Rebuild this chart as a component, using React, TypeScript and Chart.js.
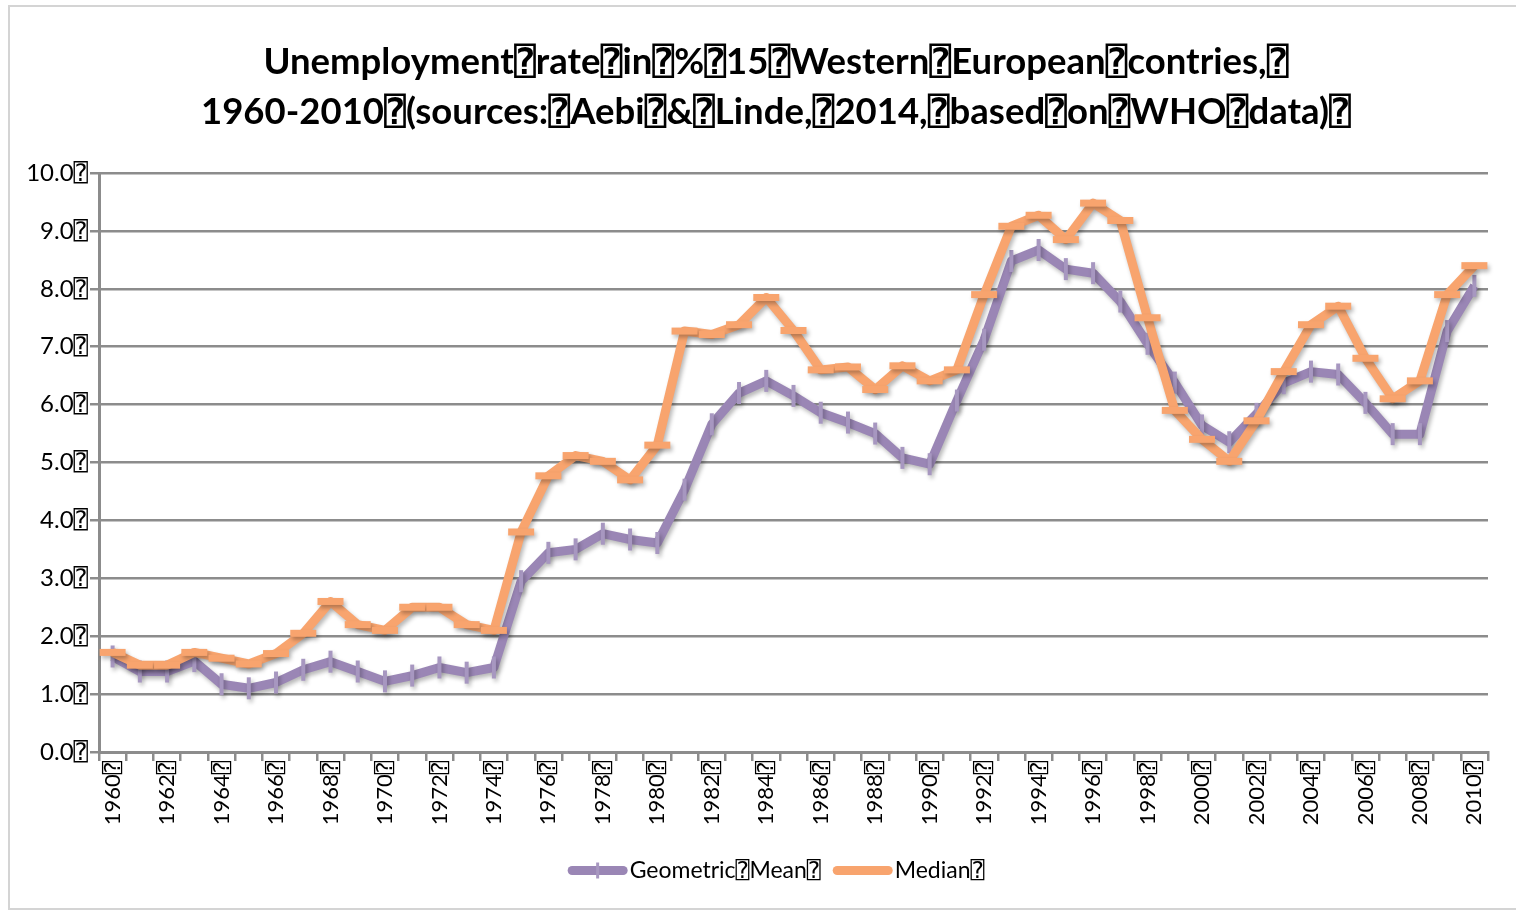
import React, { useEffect, useRef } from "react";
import { Chart, registerables } from "chart.js";

Chart.register(...registerables);

const years = [
  "1960", "1961", "1962", "1963", "1964", "1965", "1966", "1967", "1968", "1969",
  "1970", "1971", "1972", "1973", "1974", "1975", "1976", "1977", "1978", "1979",
  "1980", "1981", "1982", "1983", "1984", "1985", "1986", "1987", "1988", "1989",
  "1990", "1991", "1992", "1993", "1994", "1995", "1996", "1997", "1998", "1999",
  "2000", "2001", "2002", "2003", "2004", "2005", "2006", "2007", "2008", "2009",
  "2010",
];

const geometricMean = [
  1.65, 1.39, 1.39, 1.57, 1.17, 1.1, 1.2, 1.42, 1.56, 1.39,
  1.22, 1.32, 1.46, 1.37, 1.46, 2.95, 3.44, 3.5, 3.77, 3.67,
  3.61, 4.53, 5.66, 6.2, 6.41, 6.15, 5.86, 5.69, 5.5, 5.08,
  4.97, 6.07, 7.12, 8.48, 8.67, 8.34, 8.27, 7.78, 7.05, 6.38,
  5.64, 5.35, 5.84, 6.37, 6.57, 6.52, 6.03, 5.49, 5.49, 7.27,
  8.05,
];

const median = [
  1.72, 1.5, 1.5, 1.72, 1.62, 1.52, 1.7, 2.05, 2.6, 2.2,
  2.1, 2.5, 2.5, 2.2, 2.1, 3.8, 4.77, 5.12, 5.02, 4.7,
  5.3, 7.27, 7.21, 7.38, 7.85, 7.28, 6.6, 6.65, 6.26, 6.67,
  6.41, 6.6, 7.9, 9.08, 9.27, 8.85, 9.48, 9.18, 7.5, 5.9,
  5.4, 5.02, 5.72, 6.57, 7.38, 7.7, 6.8, 6.1, 6.41, 7.9,
  8.4,
];

const seriesLabels = ["Geometric\u2370Mean\u2370", "Median\u2370"];

const titleLines = [
  "Unemployment\u2370rate\u2370in\u2370%\u237015\u2370Western\u2370European\u2370contries,\u2370",
  "1960-2010\u2370(sources:\u2370Aebi\u2370&\u2370Linde,\u23702014,\u2370based\u2370on\u2370WHO\u2370data)\u2370",
];

const FONT = "Lato, 'DejaVu Sans', 'DejaVu Sans Mono', sans-serif";
const PURPLE = "#9A86B5";
const PURPLE_MARK = "#A797C0";
const ORANGE = "#F8A46E";
const GRID = "#8C8C8C";
const seriesColors = [PURPLE, ORANGE];

const LEGEND_LINE = 60;

const frame = {
  id: "frame",
  beforeDraw(chart: any) {
    const c = chart.ctx;
    c.save();
    c.fillStyle = "#ffffff";
    c.fillRect(0, 0, chart.width, chart.height);
    c.strokeStyle = "#D4D4D4";
    c.lineWidth = 2;
    c.strokeRect(9, 6, chart.width + 10, chart.height - 8);
    c.restore();
  },
};

const shadow = {
  id: "shadow",
  beforeDatasetDraw(chart: any) {
    const c = chart.ctx;
    c.save();
    c.shadowColor = "rgba(0,0,0,0.28)";
    c.shadowBlur = 4;
    c.shadowOffsetX = 2;
    c.shadowOffsetY = 3;
  },
  afterDatasetDraw(chart: any) {
    chart.ctx.restore();
  },
};

const legendLines = {
  id: "legendLines",
  afterDraw(chart: any) {
    const lg = chart.legend;
    if (!lg || !lg.legendHitBoxes) return;
    const c = chart.ctx;
    c.save();
    lg.legendHitBoxes.forEach((hb: any, i: number) => {
      const item = lg.legendItems[i];
      const color = seriesColors[item.datasetIndex];
      const cy = hb.top + hb.height / 2;
      c.strokeStyle = color;
      c.lineWidth = 9;
      c.lineCap = "round";
      c.beginPath();
      c.moveTo(hb.left + 4.5, cy);
      c.lineTo(hb.left + LEGEND_LINE - 4.5, cy);
      c.stroke();
      if (item.datasetIndex === 0) {
        c.strokeStyle = PURPLE_MARK;
        c.lineWidth = 3;
        c.lineCap = "butt";
        c.beginPath();
        c.moveTo(hb.left + LEGEND_LINE / 2, cy - 8);
        c.lineTo(hb.left + LEGEND_LINE / 2, cy + 8);
        c.stroke();
      }
    });
    c.restore();
  },
};

export default function App() {
  const ref = useRef<HTMLCanvasElement>(null);

  useEffect(() => {
    document.body.style.margin = "0";
    const chart = new Chart(ref.current as HTMLCanvasElement, {
      type: "line",
      data: {
        labels: years,
        datasets: [
          {
            label: seriesLabels[0],
            data: geometricMean,
            borderColor: PURPLE,
            backgroundColor: PURPLE,
            borderWidth: 9,
            borderJoinStyle: "round",
            pointStyle: "line",
            pointRotation: 90,
            pointRadius: 11,
            pointBorderWidth: 4,
            pointBorderColor: PURPLE_MARK,
            pointBackgroundColor: PURPLE,
            tension: 0,
            order: 1,
          },
          {
            label: seriesLabels[1],
            data: median,
            borderColor: ORANGE,
            backgroundColor: ORANGE,
            borderWidth: 9,
            borderJoinStyle: "round",
            pointStyle: "line",
            pointRadius: 13,
            pointBorderWidth: 7,
            pointBorderColor: ORANGE,
            pointBackgroundColor: ORANGE,
            tension: 0,
            order: 0,
          },
        ],
      },
      options: {
        responsive: false,
        animation: false,
        devicePixelRatio: 1,
        layout: { padding: { left: 64, right: 28, top: 29, bottom: 19 } },
        plugins: {
          title: {
            display: true,
            text: titleLines,
            color: "#000",
            font: { family: FONT, size: 36.5, weight: "bold", lineHeight: 1.37 },
            padding: { top: 8, bottom: 36 },
          },
          legend: {
            position: "bottom",
            labels: {
              color: "#000",
              font: { family: FONT, size: 23 },
              boxWidth: LEGEND_LINE - 11.5 + 2,
              boxHeight: 9,
              padding: 12,
              sort: (a: any, b: any) => a.datasetIndex - b.datasetIndex,
              generateLabels: (ch: any) =>
                (Chart.defaults.plugins.legend.labels as any)
                  .generateLabels(ch)
                  .map((l: any) => ({
                    ...l,
                    lineWidth: 0,
                    fillStyle: "rgba(0,0,0,0)",
                    strokeStyle: "rgba(0,0,0,0)",
                  })),
            },
          },
          tooltip: { enabled: false },
        },
        scales: {
          x: {
            type: "category",
            offset: true,
            afterFit: (s: any) => {
              s.height = 95;
            },
            grid: {
              offset: true,
              drawOnChartArea: false,
              drawTicks: true,
              tickLength: 9,
              color: GRID,
              lineWidth: 2.5,
            },
            border: { display: true, color: GRID, width: 3 },
            ticks: {
              autoSkip: false,
              maxRotation: 90,
              minRotation: 90,
              color: "#000",
              font: { family: FONT, size: 22 },
              padding: 0,
              callback: (_v: any, i: number) => (i % 2 === 0 ? years[i] + "\u2370" : ""),
            },
          },
          y: {
            min: 0,
            max: 10,
            afterFit: (s: any) => {
              s.width = 35;
              s._computeLabelArea = () => undefined;
            },
            ticks: {
              stepSize: 1,
              color: "#000",
              font: { family: FONT, size: 24 },
              padding: 2,
              callback: (v: any) => Number(v).toFixed(1) + "\u2370",
            },
            grid: { color: GRID, lineWidth: 2.5, tickLength: 9 },
            border: { display: true, color: GRID, width: 3 },
          },
        },
      },
      plugins: [frame, shadow, legendLines],
    } as any);
    return () => chart.destroy();
  }, []);

  return (
    <div style={{ width: 1516, height: 911 }}>
      <canvas ref={ref} width={1516} height={911} style={{ display: "block" }} />
    </div>
  );
}
